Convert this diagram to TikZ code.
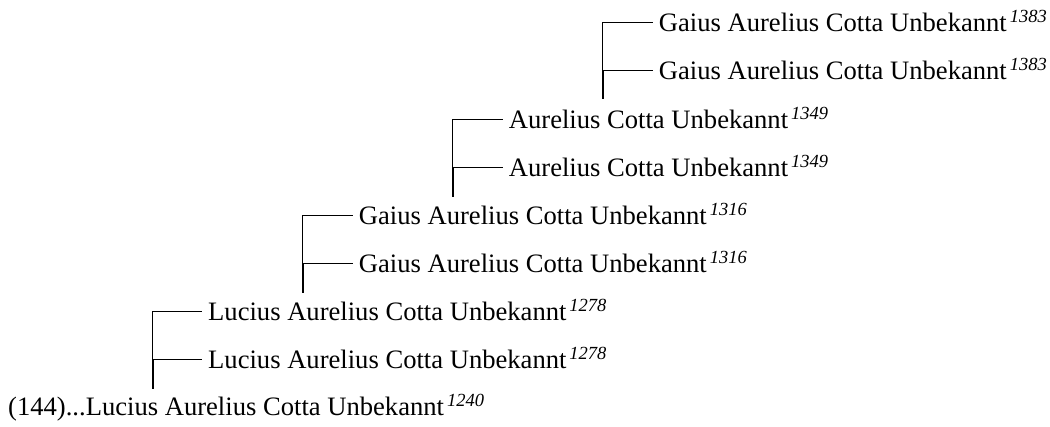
\documentclass[tikz,border=0pt]{standalone}
\usepackage{fontspec}
\setmainfont{Liberation Serif}
\newcommand{\yr}[1]{\hspace{3pt}\raisebox{9pt}{\fontsize{18.5}{18.5}\selectfont\itshape #1}}
\begin{document}
\begin{tikzpicture}[x=1pt,y=-1pt,
  person/.style={anchor=west, inner xsep=6pt, inner ysep=0pt, text height=17.6pt, text depth=0pt, font=\fontsize{26.6}{30}\selectfont},
  conn/.style={line width=1pt},
  stem/.style={line width=1.8pt}]
\useasboundingbox (0,0) rectangle (1050,427);
\node[person, inner xsep=0pt] (r) at (8,407) {(144)...Lucius Aurelius Cotta Unbekannt\yr{1240}};
\node[person] (a1) at (202,312) {Lucius Aurelius Cotta Unbekannt\yr{1278}};
\node[person] (a2) at (202,360) {Lucius Aurelius Cotta Unbekannt\yr{1278}};
\node[person] (b1) at (352.7,216) {Gaius Aurelius Cotta Unbekannt\yr{1316}};
\node[person] (b2) at (352.7,264) {Gaius Aurelius Cotta Unbekannt\yr{1316}};
\node[person] (c1) at (502.7,120) {Aurelius Cotta Unbekannt\yr{1349}};
\node[person] (c2) at (502.7,168) {Aurelius Cotta Unbekannt\yr{1349}};
\node[person] (d1) at (652.7,23) {Gaius Aurelius Cotta Unbekannt\yr{1383}};
\node[person] (d2) at (652.7,71) {Gaius Aurelius Cotta Unbekannt\yr{1383}};
\coordinate (v0) at (152.7,389);
\coordinate (v1) at (302.7,292.7);
\coordinate (v2) at (452.7,196.7);
\coordinate (v3) at (602.7,99);
\foreach \v/\p/\q in {v0/a1/a2, v1/b1/b2, v2/c1/c2, v3/d1/d2}{
  \draw[conn] (\v) |- (\p.west);
  \draw[conn] (\v |- \q.west) -- (\q.west);
  \draw[stem] (\v) -- (\v |- \q.west);
}
\end{tikzpicture}
\end{document}
